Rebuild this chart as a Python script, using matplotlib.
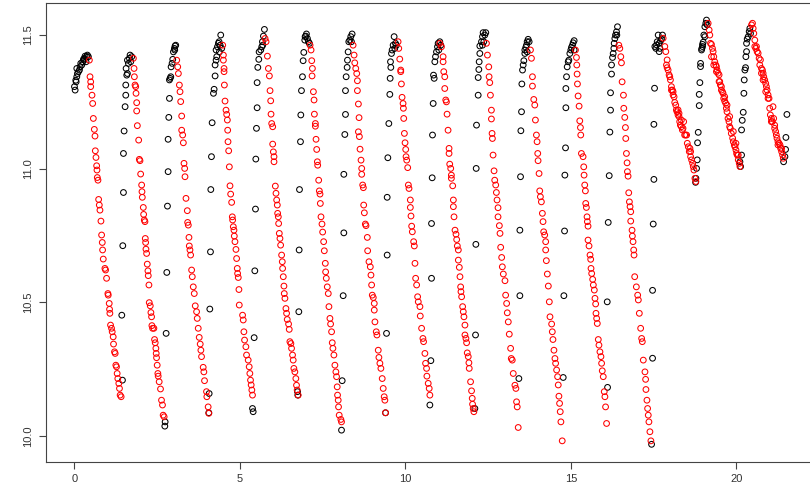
import matplotlib
matplotlib.use("Agg")
import matplotlib.pyplot as plt

plt.rcParams["font.family"] = ["Liberation Sans", "DejaVu Sans"]

# rising part of each cycle (black), one inner list per cycle
black_x = [
    [0.02, 0.00, 0.05, 0.04, 0.07, 0.09, 0.12, 0.07, 0.15, 0.17, 0.22, 0.19, 0.25, 0.27, 0.30, 0.32, 0.37, 0.39, 0.42, 0.35, 0.29],
    [1.45, 1.43, 1.46, 1.48, 1.48, 1.50, 1.53, 1.55, 1.55, 1.58, 1.60, 1.56, 1.63, 1.60, 1.66, 1.68, 1.73, 1.70],
    [2.74, 2.73, 2.77, 2.79, 2.81, 2.83, 2.83, 2.85, 2.87, 2.87, 2.89, 2.91, 2.92, 2.95, 2.97, 2.99, 3.02, 3.04, 3.06, 3.03],
    [4.07, 4.06, 4.09, 4.11, 4.12, 4.14, 4.16, 4.20, 4.22, 4.25, 4.25, 4.28, 4.30, 4.28, 4.32, 4.35, 4.37, 4.40, 4.42, 4.45, 4.38],
    [5.38, 5.40, 5.43, 5.45, 5.47, 5.48, 5.50, 5.52, 5.52, 5.54, 5.57, 5.58, 5.63, 5.66, 5.68, 5.71, 5.74, 5.69],
    [6.74, 6.75, 6.78, 6.79, 6.80, 6.83, 6.84, 6.86, 6.89, 6.91, 6.93, 6.96, 6.99, 7.01, 7.04, 7.07, 7.10, 6.97],
    [8.07, 8.09, 8.12, 8.14, 8.14, 8.17, 8.19, 8.19, 8.21, 8.24, 8.25, 8.27, 8.29, 8.32, 8.35, 8.39, 8.37],
    [9.40, 9.43, 9.45, 9.45, 9.47, 9.50, 9.53, 9.54, 9.56, 9.55, 9.58, 9.60, 9.63, 9.66, 9.70, 9.68, 9.73],
    [10.74, 10.77, 10.79, 10.79, 10.81, 10.82, 10.84, 10.87, 10.85, 10.89, 10.91, 10.94, 10.97, 10.99, 11.04, 11.07, 11.01],
    [12.10, 12.12, 12.13, 12.14, 12.15, 12.20, 12.20, 12.22, 12.23, 12.25, 12.25, 12.30, 12.33, 12.35, 12.40, 12.43, 12.37, 12.33],
    [13.43, 13.46, 13.46, 13.48, 13.49, 13.51, 13.52, 13.54, 13.56, 13.58, 13.61, 13.61, 13.64, 13.66, 13.68, 13.71, 13.74, 13.68],
    [14.77, 14.79, 14.81, 14.82, 14.84, 14.85, 14.85, 14.87, 14.89, 14.92, 14.94, 14.97, 15.00, 15.02, 15.05, 15.07, 15.10, 15.10],
    [16.11, 16.10, 16.13, 16.16, 16.18, 16.20, 16.20, 16.23, 16.23, 16.26, 16.28, 16.30, 16.31, 16.33, 16.35, 16.38, 16.41, 16.39],
    [17.44, 17.47, 17.47, 17.49, 17.51, 17.51, 17.53, 17.57, 17.54, 17.59, 17.61, 17.64, 17.67, 17.69, 17.71, 17.74, 17.77, 17.67],
    [18.77, 18.78, 18.80, 18.82, 18.83, 18.85, 18.88, 18.88, 18.90, 18.92, 18.92, 18.95, 18.98, 18.96, 19.00, 19.02, 19.05, 19.08, 19.10, 19.12, 19.05, 18.98],
    [20.11, 20.13, 20.16, 20.16, 20.18, 20.21, 20.23, 20.24, 20.26, 20.28, 20.29, 20.31, 20.31, 20.33, 20.36, 20.39, 20.41, 20.43],
    [21.43, 21.47, 21.49, 21.50, 21.53],
]
black_y = [
    [11.294, 11.307, 11.325, 11.331, 11.344, 11.356, 11.363, 11.375, 11.369, 11.381, 11.388, 11.394, 11.400, 11.409, 11.413, 11.421, 11.419, 11.425, 11.419, 11.400, 11.406],
    [10.209, 10.452, 10.712, 10.911, 11.057, 11.141, 11.232, 11.275, 11.313, 11.350, 11.356, 11.375, 11.394, 11.406, 11.413, 11.425, 11.419, 11.400],
    [10.053, 10.037, 10.384, 10.612, 10.860, 10.989, 11.110, 11.192, 11.263, 11.332, 11.338, 11.344, 11.381, 11.394, 11.409, 11.437, 11.450, 11.459, 11.462, 11.444],
    [10.159, 10.087, 10.475, 10.689, 10.922, 11.045, 11.172, 11.282, 11.297, 11.347, 11.388, 11.406, 11.419, 11.444, 11.456, 11.469, 11.475, 11.462, 11.500, 11.450, 11.437],
    [10.103, 10.091, 10.368, 10.618, 10.849, 11.036, 11.151, 11.228, 11.322, 11.379, 11.409, 11.437, 11.444, 11.456, 11.475, 11.496, 11.521, 11.462],
    [10.166, 10.153, 10.465, 10.696, 10.922, 11.101, 11.201, 11.292, 11.344, 11.404, 11.435, 11.481, 11.496, 11.504, 11.487, 11.475, 11.469, 11.494],
    [10.022, 10.207, 10.525, 10.760, 10.979, 11.128, 11.203, 11.292, 11.344, 11.379, 11.406, 11.437, 11.475, 11.481, 11.494, 11.504, 11.475],
    [10.087, 10.384, 10.677, 10.893, 11.041, 11.169, 11.278, 11.338, 11.379, 11.400, 11.431, 11.444, 11.462, 11.494, 11.469, 11.450, 11.462],
    [10.116, 10.282, 10.590, 10.795, 10.966, 11.126, 11.244, 11.338, 11.350, 11.400, 11.419, 11.437, 11.456, 11.469, 11.475, 11.462, 11.444],
    [10.103, 10.378, 10.717, 11.001, 11.163, 11.275, 11.341, 11.371, 11.400, 11.431, 11.459, 11.475, 11.494, 11.509, 11.500, 11.509, 11.475, 11.462],
    [10.215, 10.525, 10.770, 10.970, 11.142, 11.213, 11.317, 11.369, 11.388, 11.404, 11.431, 11.444, 11.454, 11.462, 11.475, 11.484, 11.475, 11.437],
    [10.219, 10.525, 10.767, 10.976, 11.078, 11.228, 11.300, 11.344, 11.381, 11.400, 11.406, 11.431, 11.444, 11.454, 11.462, 11.471, 11.479, 11.444],
    [10.182, 10.502, 10.799, 10.974, 11.137, 11.219, 11.284, 11.354, 11.388, 11.416, 11.431, 11.450, 11.469, 11.487, 11.500, 11.512, 11.531, 11.500],
    [9.969, 10.291, 10.545, 10.793, 10.960, 11.166, 11.301, 11.450, 11.457, 11.463, 11.475, 11.500, 11.469, 11.450, 11.478, 11.485, 11.500, 11.438],
    [10.949, 10.964, 11.001, 11.033, 11.097, 11.136, 11.236, 11.278, 11.322, 11.382, 11.394, 11.444, 11.457, 11.450, 11.473, 11.500, 11.531, 11.544, 11.556, 11.538, 11.494, 11.465],
    [11.026, 11.008, 11.051, 11.145, 11.181, 11.211, 11.282, 11.332, 11.369, 11.378, 11.419, 11.438, 11.469, 11.485, 11.494, 11.513, 11.525, 11.506],
    [11.026, 11.045, 11.072, 11.117, 11.203],
]

# falling part of each cycle (red)
red_x = [
    [0.45, 0.47, 0.49, 0.49, 0.53, 0.55, 0.57, 0.60, 0.62, 0.63, 0.65, 0.67, 0.68, 0.69, 0.71, 0.73, 0.75, 0.77, 0.80, 0.82, 0.84, 0.85, 0.87,
     0.92, 0.94, 0.97, 1.01, 1.02, 1.05, 1.06, 1.07, 1.09, 1.12, 1.14, 1.17, 1.18, 1.21, 1.23, 1.25, 1.27, 1.29, 1.31, 1.34, 1.36, 1.38, 1.41],
    [1.78, 1.80, 1.81, 1.83, 1.85, 1.86, 1.88, 1.88, 1.90, 1.94, 1.96, 1.98, 2.00, 2.03, 2.04, 2.05, 2.08, 2.09, 2.11, 2.13, 2.14, 2.15, 2.16, 2.18,
     2.20, 2.22, 2.23, 2.25, 2.26, 2.29, 2.31, 2.33, 2.34, 2.36, 2.40, 2.42, 2.44, 2.46, 2.47, 2.48, 2.50, 2.52, 2.53, 2.56, 2.60, 2.63, 2.66, 2.68, 2.71],
    [3.09, 3.12, 3.14, 3.17, 3.19, 3.21, 3.24, 3.24, 3.27, 3.29, 3.31, 3.33, 3.34, 3.37, 3.41, 3.42, 3.44, 3.46, 3.47, 3.49,
     3.51, 3.54, 3.56, 3.59, 3.62, 3.65, 3.69, 3.71, 3.74, 3.77, 3.80, 3.82, 3.84, 3.89, 3.91, 3.93, 3.99, 4.00, 4.04, 4.06],
    [4.48, 4.50, 4.50, 4.52, 4.52, 4.53, 4.55, 4.58, 4.60, 4.62, 4.63, 4.64, 4.66, 4.68, 4.70, 4.72, 4.75, 4.77, 4.78, 4.80, 4.82, 4.83,
     4.85, 4.88, 4.90, 4.92, 4.93, 4.95, 4.97, 4.98, 5.08, 5.10, 5.12, 5.14, 5.18, 5.20, 5.25, 5.28, 5.30, 5.32, 5.34, 5.36, 5.38],
    [5.76, 5.79, 5.83, 5.86, 5.89, 5.91, 5.93, 5.94, 5.96, 5.99, 5.99, 6.01, 6.03, 6.03, 6.07, 6.09, 6.11, 6.13, 6.14, 6.16, 6.17, 6.19, 6.21, 6.23,
     6.26, 6.28, 6.29, 6.31, 6.33, 6.34, 6.36, 6.39, 6.41, 6.43, 6.47, 6.49, 6.51, 6.54, 6.56, 6.59, 6.61, 6.63, 6.66, 6.69, 6.71, 6.73, 6.76],
    [7.12, 7.15, 7.17, 7.19, 7.18, 7.22, 7.24, 7.25, 7.28, 7.28, 7.30, 7.32, 7.34, 7.35, 7.38, 7.40, 7.42, 7.43, 7.45, 7.48, 7.50, 7.53, 7.55,
     7.58, 7.59, 7.61, 7.64, 7.67, 7.69, 7.72, 7.74, 7.77, 7.79, 7.81, 7.84, 7.87, 7.90, 7.92, 7.94, 7.95, 7.97, 7.98, 8.00, 8.05, 8.07],
    [8.42, 8.45, 8.47, 8.50, 8.53, 8.55, 8.55, 8.58, 8.60, 8.58, 8.61, 8.63, 8.66, 8.68, 8.68, 8.71, 8.73, 8.74, 8.76, 8.79, 8.81, 8.85,
     8.86, 8.90, 8.94, 8.96, 8.98, 9.00, 9.03, 9.06, 9.06, 9.08, 9.12, 9.14, 9.18, 9.20, 9.23, 9.26, 9.30, 9.33, 9.36, 9.38, 9.40],
    [9.78, 9.80, 9.83, 9.86, 9.86, 9.88, 9.90, 9.93, 9.94, 9.95, 9.97, 9.99, 10.01, 10.02, 10.04, 10.07, 10.09, 10.11, 10.15, 10.15, 10.17,
     10.19, 10.21, 10.25, 10.27, 10.29, 10.31, 10.34, 10.37, 10.39, 10.44, 10.45, 10.49, 10.53, 10.55, 10.59, 10.61, 10.64, 10.65, 10.69, 10.72, 10.74],
    [11.04, 11.09, 11.14, 11.14, 11.16, 11.19, 11.19, 11.22, 11.24, 11.26, 11.29, 11.32, 11.32, 11.34, 11.37, 11.39, 11.39, 11.43, 11.45, 11.45,
     11.47, 11.50, 11.53, 11.55, 11.57, 11.60, 11.60, 11.63, 11.65, 11.67, 11.68, 11.70, 11.73, 11.75, 11.77, 11.80, 11.80, 11.83, 11.85, 11.87,
     11.90, 11.92, 11.93, 11.97, 12.00, 12.02, 12.03, 12.05, 12.07],
    [12.45, 12.48, 12.52, 12.53, 12.55, 12.57, 12.60, 12.60, 12.62, 12.63, 12.65, 12.68, 12.70, 12.73, 12.75, 12.77, 12.80, 12.80, 12.84, 12.86,
     12.88, 12.91, 12.93, 12.96, 13.01, 13.03, 13.06, 13.08, 13.11, 13.14, 13.18, 13.20, 13.23, 13.26, 13.31, 13.34, 13.36, 13.38, 13.41],
    [13.78, 13.81, 13.84, 13.84, 13.88, 13.91, 13.93, 13.96, 13.98, 14.00, 14.01, 14.04, 14.06, 14.08, 14.11, 14.14, 14.16, 14.18, 14.21, 14.24,
     14.24, 14.26, 14.29, 14.32, 14.35, 14.37, 14.42, 14.44, 14.46, 14.49, 14.52, 14.54, 14.57, 14.60, 14.62, 14.64, 14.66, 14.68, 14.70, 14.74],
    [15.14, 15.17, 15.18, 15.19, 15.20, 15.22, 15.25, 15.27, 15.29, 15.30, 15.32, 15.37, 15.39, 15.40, 15.42, 15.44, 15.45, 15.47, 15.49, 15.50,
     15.52, 15.52, 15.55, 15.58, 15.60, 15.61, 15.63, 15.66, 15.68, 15.71, 15.73, 15.75, 15.76, 15.78, 15.80, 15.83, 15.85, 15.88, 15.91, 15.93,
     15.95, 15.98, 16.01, 16.03, 16.05, 16.08],
    [16.45, 16.48, 16.51, 16.53, 16.55, 16.59, 16.60, 16.63, 16.65, 16.66, 16.68, 16.70, 16.71, 16.73, 16.75, 16.77, 16.79, 16.81, 16.81, 16.85,
     16.86, 16.88, 16.90, 16.91, 16.93, 16.98, 17.02, 17.04, 17.07, 17.11, 17.14, 17.16, 17.19, 17.24, 17.26, 17.27, 17.30, 17.32, 17.34, 17.36,
     17.39, 17.42],
    [17.79, 17.84, 17.87, 17.89, 17.91, 17.91, 17.94, 17.97, 17.99, 18.01, 18.04, 18.04, 18.07, 18.09, 18.09, 18.12, 18.14, 18.17, 18.19, 18.21,
     18.24, 18.24, 18.27, 18.27, 18.29, 18.31, 18.34, 18.34, 18.37, 18.39, 18.41, 18.44, 18.47, 18.50, 18.52, 18.55, 18.58, 18.60, 18.62, 18.62,
     18.65, 18.68, 18.70, 18.72, 18.75, 18.78],
    [19.15, 19.18, 19.20, 19.22, 19.25, 19.28, 19.30, 19.32, 19.35, 19.38, 19.40, 19.42, 19.45, 19.48, 19.50, 19.52, 19.55, 19.58, 19.60, 19.62,
     19.65, 19.68, 19.70, 19.72, 19.75, 19.78, 19.80, 19.82, 19.85, 19.89, 19.91, 19.94, 19.96, 19.99, 20.01, 20.03, 20.06, 20.09, 20.11,
     19.25, 19.32, 19.40, 19.48, 19.55, 19.65, 19.72, 19.80, 19.91, 19.99, 20.06],
    [20.46, 20.49, 20.51, 20.53, 20.56, 20.56, 20.59, 20.63, 20.66, 20.69, 20.73, 20.76, 20.79, 20.81, 20.83, 20.86, 20.89, 20.91, 20.93, 20.96,
     20.99, 21.01, 21.03, 21.06, 21.09, 21.11, 21.13, 21.16, 21.19, 21.21, 21.23, 21.26, 21.29, 21.32, 21.34, 21.37, 21.40, 21.42,
     20.61, 20.71, 20.76, 20.81, 20.89, 20.96, 21.06, 21.16, 21.26, 21.37],
]
red_y = [
    [11.406, 11.344, 11.325, 11.307, 11.275, 11.244, 11.188, 11.147, 11.122, 11.067, 11.042, 11.011, 10.995, 10.967, 10.957, 10.885, 10.864, 10.845,
     10.804, 10.752, 10.724, 10.696, 10.662, 10.627, 10.621, 10.590, 10.533, 10.527, 10.496, 10.474, 10.459, 10.415, 10.403, 10.390, 10.371, 10.344,
     10.315, 10.309, 10.265, 10.259, 10.234, 10.215, 10.197, 10.178, 10.153, 10.147],
    [11.413, 11.375, 11.344, 11.313, 11.307, 11.282, 11.247, 11.216, 11.161, 11.107, 11.035, 11.030, 10.980, 10.939, 10.914, 10.893, 10.855, 10.829,
     10.808, 10.802, 10.739, 10.724, 10.699, 10.683, 10.643, 10.618, 10.600, 10.565, 10.499, 10.487, 10.462, 10.446, 10.413, 10.403, 10.403, 10.361,
     10.349, 10.328, 10.309, 10.293, 10.265, 10.234, 10.224, 10.203, 10.176, 10.134, 10.116, 10.078, 10.072],
    [11.406, 11.381, 11.356, 11.313, 11.288, 11.251, 11.197, 11.144, 11.126, 11.097, 11.020, 11.001, 10.970, 10.889, 10.843, 10.799, 10.789, 10.743,
     10.711, 10.696, 10.677, 10.621, 10.596, 10.558, 10.533, 10.487, 10.465, 10.440, 10.403, 10.369, 10.344, 10.321, 10.297, 10.257, 10.240, 10.207,
     10.166, 10.147, 10.109, 10.085],
    [11.462, 11.425, 11.406, 11.375, 11.363, 11.313, 11.253, 11.219, 11.203, 11.182, 11.144, 11.101, 11.067, 11.007, 10.936, 10.905, 10.874, 10.820,
     10.808, 10.783, 10.770, 10.748, 10.727, 10.698, 10.664, 10.627, 10.608, 10.593, 10.548, 10.490, 10.452, 10.434, 10.390, 10.359, 10.334, 10.303,
     10.284, 10.259, 10.234, 10.209, 10.191, 10.172, 10.153],
    [11.487, 11.475, 11.421, 11.375, 11.347, 11.292, 11.254, 11.204, 11.169, 11.157, 11.092, 11.063, 11.045, 11.026, 10.935, 10.908, 10.883, 10.864,
     10.833, 10.820, 10.795, 10.758, 10.739, 10.714, 10.677, 10.652, 10.627, 10.596, 10.561, 10.533, 10.515, 10.477, 10.459, 10.436, 10.419, 10.399,
     10.353, 10.346, 10.328, 10.303, 10.284, 10.253, 10.240, 10.215, 10.190, 10.172, 10.153],
    [11.462, 11.444, 11.404, 11.375, 11.347, 11.288, 11.257, 11.204, 11.169, 11.159, 11.110, 11.072, 11.026, 11.013, 10.957, 10.917, 10.905, 10.870,
     10.820, 10.793, 10.763, 10.727, 10.693, 10.646, 10.614, 10.590, 10.558, 10.533, 10.484, 10.440, 10.419, 10.390, 10.349, 10.328, 10.303, 10.265,
     10.240, 10.222, 10.184, 10.153, 10.134, 10.109, 10.078, 10.062, 10.053],
    [11.462, 11.425, 11.396, 11.375, 11.356, 11.329, 11.292, 11.242, 11.191, 11.138, 11.120, 11.073, 11.032, 11.001, 10.979, 10.939, 10.929, 10.864,
     10.835, 10.793, 10.787, 10.743, 10.693, 10.652, 10.633, 10.602, 10.565, 10.527, 10.518, 10.496, 10.471, 10.427, 10.390, 10.378, 10.321, 10.294,
     10.272, 10.253, 10.215, 10.178, 10.147, 10.134, 10.087],
    [11.475, 11.450, 11.410, 11.369, 11.363, 11.317, 11.267, 11.244, 11.226, 11.188, 11.132, 11.097, 11.072, 11.045, 11.032, 11.004, 10.939, 10.926,
     10.883, 10.855, 10.823, 10.785, 10.764, 10.727, 10.711, 10.646, 10.590, 10.565, 10.521, 10.502, 10.484, 10.449, 10.403, 10.365, 10.353, 10.309,
     10.272, 10.253, 10.224, 10.197, 10.178, 10.153],
    [11.469, 11.456, 11.419, 11.400, 11.363, 11.344, 11.300, 11.257, 11.250, 11.204, 11.144, 11.076, 11.057, 11.017, 11.001, 10.976, 10.964, 10.936,
     10.883, 10.858, 10.820, 10.770, 10.755, 10.735, 10.711, 10.696, 10.658, 10.631, 10.596, 10.558, 10.540, 10.521, 10.484, 10.465, 10.446, 10.415,
     10.378, 10.365, 10.349, 10.311, 10.297, 10.274, 10.253, 10.203, 10.169, 10.141, 10.119, 10.103, 10.091],
    [11.469, 11.425, 11.381, 11.344, 11.322, 11.275, 11.219, 11.186, 11.132, 11.113, 11.051, 10.992, 10.957, 10.939, 10.911, 10.883, 10.854, 10.820,
     10.787, 10.758, 10.706, 10.668, 10.633, 10.606, 10.581, 10.527, 10.496, 10.461, 10.427, 10.381, 10.328, 10.290, 10.284, 10.234, 10.190, 10.178,
     10.128, 10.109, 10.032],
    [11.444, 11.413, 11.344, 11.309, 11.259, 11.238, 11.182, 11.126, 11.101, 11.057, 11.030, 10.982, 10.917, 10.895, 10.876, 10.833, 10.802, 10.764,
     10.752, 10.727, 10.696, 10.656, 10.606, 10.561, 10.502, 10.446, 10.419, 10.390, 10.361, 10.321, 10.290, 10.272, 10.247, 10.222, 10.191, 10.149,
     10.122, 10.091, 10.053, 9.982],
    [11.444, 11.416, 11.388, 11.354, 11.317, 11.272, 11.234, 11.179, 11.154, 11.126, 11.057, 11.045, 11.007, 10.976, 10.939, 10.917, 10.870, 10.855,
     10.820, 10.802, 10.785, 10.733, 10.711, 10.677, 10.661, 10.627, 10.608, 10.586, 10.565, 10.546, 10.515, 10.494, 10.459, 10.440, 10.421, 10.361,
     10.340, 10.315, 10.297, 10.272, 10.244, 10.222, 10.166, 10.147, 10.109, 10.047],
    [11.462, 11.450, 11.419, 11.396, 11.325, 11.275, 11.226, 11.192, 11.154, 11.113, 11.057, 11.022, 10.989, 10.972, 10.910, 10.876, 10.858, 10.839,
     10.804, 10.770, 10.748, 10.727, 10.696, 10.677, 10.596, 10.558, 10.527, 10.509, 10.459, 10.403, 10.365, 10.353, 10.284, 10.240, 10.212, 10.174,
     10.134, 10.103, 10.078, 10.053, 10.016, 9.982],
    [11.488, 11.457, 11.438, 11.388, 11.407, 11.378, 11.369, 11.351, 11.344, 11.332, 11.307, 11.294, 11.294, 11.288, 11.276, 11.269, 11.248, 11.238,
     11.220, 11.213, 11.201, 11.220, 11.207, 11.195, 11.176, 11.163, 11.157, 11.182, 11.145, 11.151, 11.176, 11.126, 11.126, 11.126, 11.095, 11.082,
     11.064, 11.076, 11.064, 11.045, 11.033, 11.020, 11.008, 10.995, 10.964, 10.952],
    [11.544, 11.519, 11.500, 11.469, 11.465, 11.450, 11.438, 11.419, 11.400, 11.388, 11.382, 11.369, 11.357, 11.351, 11.326, 11.313, 11.307, 11.288,
     11.282, 11.263, 11.253, 11.245, 11.226, 11.213, 11.188, 11.176, 11.157, 11.151, 11.132, 11.114, 11.101, 11.089, 11.082, 11.070, 11.057, 11.051,
     11.033, 11.020, 11.008,
     11.419, 11.388, 11.363, 11.326, 11.294, 11.269, 11.238, 11.195, 11.139, 11.095, 11.051],
    [11.538, 11.544, 11.525, 11.506, 11.481, 11.457, 11.450, 11.438, 11.432, 11.413, 11.407, 11.375, 11.369, 11.357, 11.344, 11.332, 11.319, 11.307,
     11.294, 11.276, 11.263, 11.226, 11.201, 11.188, 11.176, 11.232, 11.188, 11.151, 11.139, 11.126, 11.114, 11.101, 11.095, 11.089, 11.076, 11.064,
     11.051, 11.039,
     11.457, 11.388, 11.357, 11.332, 11.288, 11.263, 11.176, 11.163, 11.089, 11.076],
]

x_ticks = [0, 5, 10, 15, 20]
y_ticks = [10.0, 10.5, 11.0, 11.5]
y_labels = ["10.0", "10.5", "11.0", "11.5"]

bx = [v for c in black_x for v in c]
by = [v for c in black_y for v in c]
rx = [v for c in red_x for v in c]
ry = [v for c in red_y for v in c]

fig = plt.figure(figsize=(8.1, 4.92), dpi=100)
ax = fig.add_axes([0.0564, 0.0616, 0.949, 0.9313])

ax.scatter(bx, by, s=17, facecolors="none", edgecolors="black", linewidths=0.75)
ax.scatter(rx, ry, s=17, facecolors="none", edgecolors="#ff0000", linewidths=0.75)

ax.set_xlim(-0.87, 22.36)
ax.set_ylim(9.904, 11.618)
ax.set_xticks(x_ticks)
ax.set_xticklabels([str(t) for t in x_ticks])
ax.set_yticks(y_ticks)
ax.set_yticklabels(y_labels, rotation=90, va="center")

for side in ["left", "bottom", "top"]:
    ax.spines[side].set_color("#444444")
    ax.spines[side].set_linewidth(0.8)
ax.spines["right"].set_visible(False)
ax.tick_params(axis="both", length=5, width=0.8, color="#444444",
               labelsize=8, labelcolor="#333333", pad=4)

plt.savefig("out.png", dpi=100)
